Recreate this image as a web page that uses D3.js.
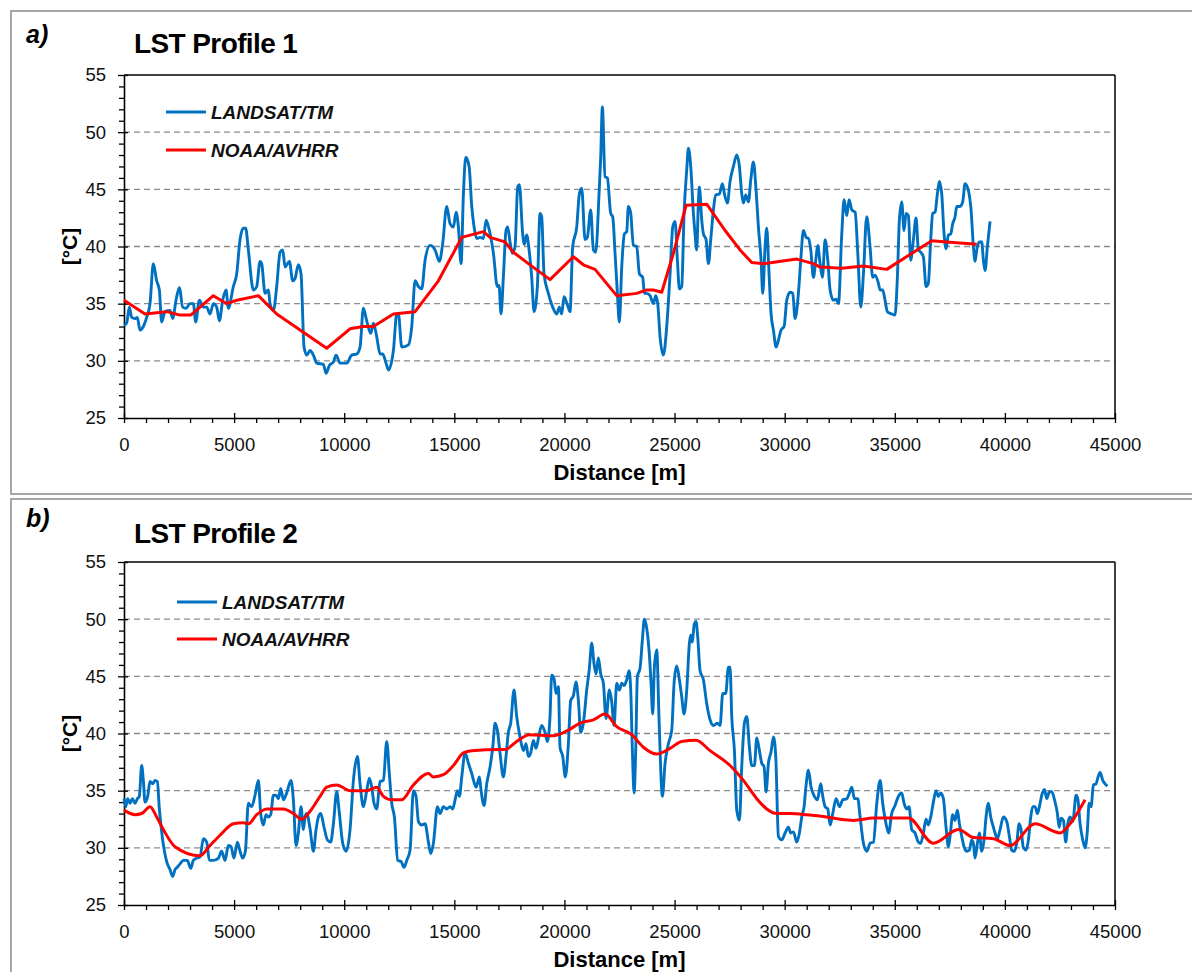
<!DOCTYPE html>
<html>
<head>
<meta charset="utf-8">
<script src="https://cdn.jsdelivr.net/npm/d3@7"></script>
<style>
  body { margin: 0; background: #fff; }
  svg { display: block; font-family: "Liberation Sans", Arial, sans-serif; }
</style>
</head>
<body>
<div id="chart"></div>
<script>
// distance [m], temperature [°C]
const p1Landsat = [[0,33.1],[121,33.3],[242,34.7],[348,33.8],[500,33.7],[606,33.8],[727,32.7],[878,33.0],[1030,33.8],[1181,35.0],[1332,38.5],[1484,37.0],[1605,36.2],[1711,33.4],[1862,34.3],[2089,34.4],[2210,33.7],[2362,35.3],[2513,36.4],[2665,34.7],[2816,34.6],[2998,35.0],[3149,35.0],[3255,33.4],[3422,35.3],[3603,34.7],[3755,34.7],[3906,34.1],[4058,35.0],[4209,34.7],[4330,33.5],[4481,35.3],[4633,36.2],[4739,34.6],[4966,36.5],[5117,37.6],[5269,40.6],[5420,41.6],[5526,41.6],[5647,39.7],[5874,36.2],[6026,36.5],[6177,38.7],[6253,38.5],[6404,35.9],[6556,36.2],[6631,35.0],[6783,34.4],[6934,36.5],[7086,39.5],[7207,39.7],[7313,38.2],[7509,38.7],[7661,37.0],[7767,37.2],[7918,38.4],[8039,37.6],[8176,31.2],[8297,30.5],[8448,30.9],[8600,30.5],[8751,29.8],[9054,29.7],[9175,28.9],[9326,29.6],[9508,29.9],[9629,30.5],[9811,29.8],[10114,29.8],[10341,30.5],[10568,30.6],[10719,31.2],[10870,34.6],[11022,33.5],[11204,32.4],[11325,33.3],[11476,32.1],[11628,30.6],[11749,30.6],[11900,29.8],[12006,29.2],[12233,30.9],[12385,34.1],[12460,34.1],[12612,31.2],[12914,31.4],[13066,33.0],[13217,37.0],[13369,36.5],[13520,36.3],[13672,38.8],[13898,40.1],[14125,39.7],[14322,38.7],[14474,40.3],[14655,43.5],[14807,42.0],[14958,41.7],[15079,43.0],[15185,41.7],[15306,38.5],[15412,44.6],[15518,47.8],[15670,47.0],[15791,43.5],[15897,41.7],[16018,40.7],[16169,40.8],[16321,40.7],[16442,42.3],[16593,41.4],[16775,39.4],[16953,36.5],[17029,36.6],[17120,34.1],[17226,37.3],[17347,41.4],[17423,41.7],[17529,40.4],[17635,39.4],[17756,40.0],[17877,45.2],[17953,45.4],[18104,41.1],[18180,40.2],[18286,41.0],[18407,39.5],[18513,37.3],[18619,34.3],[18770,36.5],[18891,42.9],[18967,42.6],[19073,37.6],[19270,35.9],[19467,34.7],[19648,34.1],[19769,34.7],[19875,34.1],[19981,35.6],[20133,34.9],[20254,34.3],[20375,40.0],[20557,41.7],[20678,44.6],[20784,45.1],[20935,40.6],[21041,40.8],[21192,43.2],[21314,39.7],[21420,39.5],[21571,44.6],[21647,47.8],[21722,52.2],[21843,46.1],[21949,46.0],[22101,42.9],[22192,42.6],[22298,39.4],[22404,35.9],[22494,33.4],[22601,38.2],[22722,41.1],[22828,41.3],[22903,43.5],[23009,42.9],[23130,40.1],[23282,40.0],[23403,37.6],[23554,37.3],[23630,35.9],[23736,35.9],[23887,35.7],[24039,35.0],[24145,35.7],[24236,35.0],[24342,32.1],[24493,30.5],[24644,33.0],[24796,37.6],[24917,41.7],[25023,42.2],[25129,38.8],[25220,36.3],[25326,36.5],[25432,42.9],[25553,46.7],[25628,48.6],[25734,47.0],[25856,42.9],[25931,41.1],[26007,39.7],[26083,43.9],[26128,45.2],[26234,42.3],[26310,41.1],[26431,40.6],[26537,38.5],[26643,40.6],[26764,43.2],[26870,44.5],[27037,44.6],[27173,45.5],[27264,44.6],[27400,43.8],[27521,45.7],[27672,47.0],[27824,48.0],[27945,47.0],[28051,44.6],[28127,43.8],[28233,44.5],[28354,43.9],[28460,45.8],[28581,47.4],[28702,44.9],[28808,41.7],[28929,38.8],[29005,35.9],[29111,40.0],[29186,41.6],[29277,38.2],[29383,34.1],[29489,32.7],[29610,31.2],[29716,31.8],[29837,32.7],[29974,33.0],[30095,35.3],[30246,36.0],[30367,35.9],[30473,33.7],[30624,35.9],[30730,38.8],[30852,41.4],[30973,40.8],[31079,40.7],[31185,39.7],[31306,37.3],[31412,38.8],[31503,40.1],[31609,38.5],[31715,37.3],[31836,40.6],[31957,38.8],[32063,36.2],[32214,35.3],[32335,35.4],[32442,35.0],[32593,41.1],[32699,44.1],[32820,42.7],[32926,44.1],[33047,43.2],[33199,43.0],[33320,39.4],[33456,34.7],[33577,37.6],[33725,42.6],[33876,40.0],[33998,37.3],[34104,37.5],[34255,36.8],[34330,36.2],[34452,36.2],[34558,35.3],[34664,34.3],[34861,34.1],[35012,34.0],[35118,37.3],[35209,42.3],[35315,43.9],[35421,41.4],[35512,42.9],[35618,42.7],[35723,38.8],[35845,40.6],[35966,42.5],[36072,39.7],[36178,39.5],[36299,39.1],[36420,36.5],[36526,36.8],[36632,40.6],[36723,42.9],[36829,43.0],[36935,44.6],[37026,45.7],[37132,44.6],[37238,41.1],[37329,39.8],[37435,41.0],[37540,41.1],[37631,42.0],[37737,42.6],[37813,43.5],[37964,43.5],[38085,43.9],[38191,45.5],[38342,44.9],[38464,43.2],[38570,40.0],[38645,38.7],[38721,39.7],[38842,40.4],[38948,40.4],[39024,38.8],[39100,37.9],[39205,40.0],[39327,42.2]];

const p1Noaa = [[0,35.3],[954,34.1],[1938,34.3],[2544,34.0],[3028,34.0],[4057,35.7],[4663,35.0],[5117,35.3],[6101,35.7],[6934,34.1],[9205,31.1],[10265,32.8],[10870,33.0],[11325,33.0],[12233,34.1],[13217,34.3],[14277,37.0],[15337,40.8],[16321,41.3],[16620,40.8],[17302,40.4],[17680,39.5],[18361,38.5],[19345,37.1],[20405,39.1],[20859,38.4],[21389,38.0],[22373,35.7],[23282,35.9],[23736,36.2],[24039,36.2],[24417,36.0],[24947,39.4],[25522,43.6],[26461,43.7],[27294,41.4],[27975,39.7],[28505,38.6],[29035,38.5],[30549,38.9],[31306,38.5],[31609,38.2],[32593,38.1],[33577,38.3],[34633,38.0],[35693,39.3],[36677,40.5],[37358,40.4],[38721,40.2]];

const p2Landsat = [[0,34.3],[76,33.6],[167,34.3],[273,33.9],[379,34.3],[500,33.9],[606,34.3],[696,34.5],[802,37.2],[878,35.9],[954,34.0],[1075,34.5],[1181,35.8],[1302,35.6],[1408,35.9],[1514,35.8],[1605,33.4],[1756,30.7],[1938,28.8],[2089,28.1],[2210,27.5],[2316,28.1],[2422,28.3],[2544,28.6],[2695,28.9],[2877,28.9],[3028,28.2],[3149,28.9],[3301,29.1],[3452,29.2],[3603,30.8],[3755,30.5],[3876,28.9],[4058,28.9],[4285,29.1],[4436,29.7],[4587,28.9],[4739,30.2],[4860,30.1],[4996,29.1],[5148,30.5],[5269,29.7],[5390,29.1],[5511,29.7],[5647,33.9],[5799,33.6],[5950,34.6],[6101,35.9],[6207,33.0],[6328,32.0],[6450,32.9],[6556,32.7],[6662,32.9],[6783,34.6],[6904,34.6],[7010,34.3],[7116,35.2],[7237,34.2],[7388,34.8],[7585,35.9],[7691,34.2],[7812,30.2],[7918,31.3],[8039,33.6],[8145,31.6],[8221,32.7],[8297,33.0],[8448,31.7],[8600,29.7],[8721,31.6],[8827,32.7],[8933,33.0],[9084,31.8],[9235,30.7],[9387,30.5],[9508,32.1],[9659,34.9],[9780,33.0],[9932,30.4],[10083,29.7],[10265,31.6],[10417,35.9],[10598,38.0],[10719,35.6],[10870,33.6],[11022,35.0],[11143,36.1],[11249,35.3],[11355,33.9],[11476,33.4],[11628,35.8],[11779,35.9],[11930,39.3],[12051,36.4],[12157,33.9],[12278,32.7],[12430,28.9],[12581,28.8],[12718,28.3],[12839,28.9],[12990,29.8],[13141,35.0],[13262,34.5],[13369,32.3],[13520,32.0],[13672,32.1],[13823,30.5],[13928,29.5],[14050,30.4],[14232,33.6],[14353,33.0],[14504,33.6],[14656,33.4],[14807,33.6],[14928,33.4],[15034,34.2],[15140,35.0],[15231,34.5],[15337,36.2],[15488,38.3],[15640,37.4],[15791,36.5],[15988,35.3],[16139,36.2],[16215,35.0],[16351,33.7],[16472,35.6],[16624,37.1],[16745,38.8],[16851,40.9],[16953,40.3],[17074,38.3],[17226,36.2],[17347,38.0],[17453,40.1],[17559,40.9],[17710,43.8],[17831,41.5],[17983,39.7],[18134,38.5],[18255,39.1],[18361,38.0],[18467,38.3],[18588,39.4],[18710,38.7],[18831,39.7],[18967,40.7],[19118,40.1],[19224,39.3],[19345,41.5],[19421,45.1],[19527,44.8],[19618,43.5],[19724,44.1],[19800,38.8],[19921,38.0],[20042,36.2],[20178,39.1],[20284,42.9],[20405,43.3],[20526,44.5],[20632,42.9],[20738,40.1],[20859,40.9],[21011,43.8],[21132,45.7],[21238,47.9],[21344,46.1],[21435,45.2],[21541,46.6],[21647,45.2],[21768,44.4],[21889,41.3],[22040,43.8],[22146,42.8],[22252,40.7],[22373,44.4],[22494,43.8],[22601,44.4],[22706,44.2],[22828,44.7],[22934,45.5],[23009,43.8],[23085,38.5],[23161,34.8],[23236,38.5],[23312,45.0],[23433,45.7],[23539,48.2],[23630,50.0],[23736,49.2],[23842,47.3],[23933,44.4],[24009,41.7],[24084,45.8],[24190,47.3],[24296,41.2],[24448,34.5],[24569,37.4],[24720,39.1],[24872,40.3],[24978,44.4],[25099,45.9],[25220,44.7],[25326,43.2],[25432,41.7],[25553,43.8],[25674,47.9],[25734,48.6],[25795,48.0],[25901,49.6],[25977,49.8],[26053,48.4],[26158,45.5],[26310,44.7],[26461,42.6],[26613,41.2],[26764,40.7],[26946,40.9],[27067,40.7],[27188,43.5],[27324,43.5],[27445,45.8],[27521,45.8],[27597,41.5],[27718,38.5],[27824,33.3],[27945,32.4],[28051,37.1],[28172,40.9],[28278,41.5],[28399,38.8],[28505,37.2],[28626,37.2],[28732,39.6],[28853,38.5],[28959,37.4],[29065,37.1],[29156,34.9],[29262,37.4],[29383,38.4],[29489,39.7],[29595,38.0],[29716,31.0],[29868,30.7],[30019,31.3],[30171,31.8],[30277,31.3],[30398,31.4],[30549,30.5],[30670,31.3],[30776,32.7],[30882,33.6],[30973,35.5],[31079,36.8],[31200,35.3],[31352,34.5],[31488,34.2],[31639,35.6],[31730,34.5],[31836,33.6],[31957,33.4],[32063,32.0],[32184,33.0],[32335,34.3],[32487,33.6],[32638,34.2],[32820,34.3],[32941,34.8],[33047,35.3],[33168,34.3],[33320,34.3],[33426,32.7],[33577,30.4],[33728,29.7],[33880,30.4],[34031,30.5],[34183,33.9],[34334,35.9],[34452,33.9],[34603,32.1],[34724,31.3],[34860,33.0],[35012,33.7],[35163,34.5],[35315,34.8],[35421,33.9],[35542,33.4],[35648,33.6],[35769,31.6],[35920,31.3],[36072,30.5],[36178,30.4],[36299,31.3],[36420,32.5],[36526,32.0],[36632,32.7],[36753,34.0],[36874,35.0],[36980,34.5],[37086,34.8],[37207,34.3],[37328,31.8],[37434,30.1],[37510,31.0],[37631,32.9],[37737,32.4],[37843,33.3],[37934,32.1],[38040,31.0],[38146,30.1],[38267,29.7],[38388,29.8],[38494,30.7],[38570,30.4],[38645,29.1],[38752,30.4],[38842,31.3],[38948,29.7],[39054,30.7],[39145,32.7],[39251,33.9],[39357,32.7],[39448,32.0],[39554,31.3],[39660,30.8],[39781,31.6],[39932,32.7],[40084,32.3],[40205,31.0],[40311,29.8],[40417,29.7],[40538,30.4],[40644,32.1],[40735,31.6],[40841,30.0],[40962,29.8],[41068,30.7],[41174,32.7],[41265,33.6],[41371,33.6],[41477,33.0],[41568,33.6],[41674,34.6],[41795,35.1],[41901,34.3],[42022,34.9],[42128,34.9],[42279,34.0],[42385,33.0],[42461,31.8],[42552,32.6],[42658,32.4],[42764,30.5],[42855,32.1],[42961,32.7],[43082,32.3],[43233,34.6],[43309,34.3],[43415,32.1],[43536,30.7],[43642,30.0],[43748,31.6],[43824,33.9],[43914,33.6],[44020,35.5],[44141,35.6],[44217,36.1],[44323,36.6],[44444,35.9],[44550,35.6],[44656,35.4]];

const p2Noaa = [[0,33.3],[500,32.9],[802,33.0],[1181,33.6],[1484,32.7],[1787,31.6],[2316,30.1],[3452,29.3],[3906,30.2],[4360,31.1],[4966,32.1],[5420,32.2],[5647,32.1],[6026,32.9],[6480,33.4],[7237,33.4],[7691,33.0],[8070,32.5],[8448,33.2],[8902,34.5],[9205,35.3],[9659,35.5],[10265,35.0],[11022,35.0],[11476,35.3],[11779,34.5],[12157,34.2],[12612,34.2],[13141,35.5],[13823,36.5],[14050,36.2],[14504,36.4],[14958,37.2],[15412,38.3],[15791,38.5],[17078,38.6],[17302,38.6],[17831,39.3],[18407,39.9],[19497,39.8],[20178,40.3],[20708,40.9],[21314,41.2],[21844,41.7],[22373,40.6],[23055,39.9],[23585,38.8],[24190,38.2],[24796,38.7],[25326,39.3],[25977,39.4],[26613,38.5],[27521,37.2],[28127,35.9],[28732,34.3],[29186,33.4],[29640,33.0],[30246,33.0],[31003,32.9],[31912,32.7],[32517,32.5],[33123,32.4],[34031,32.6],[34482,32.6],[35617,32.6],[36753,30.4],[37888,31.6],[38570,30.9],[39478,30.8],[40235,30.2],[41371,32.1],[42506,31.3],[43036,32.3],[43642,34.2]];

const seriesNames = ['LANDSAT/TM', 'NOAA/AVHRR'];
const xTicks = [0, 5000, 10000, 15000, 20000, 25000, 30000, 35000, 40000, 45000];
const yTicks = [25, 30, 35, 40, 45, 50, 55];
const gridValues = [30, 35, 40, 45, 50];

const W = 1192, H = 972;
const plotLeft = 124, plotRight = 1115;
const blue = '#0070C0', red = '#FF0000';

const svg = d3.select('#chart').append('svg')
    .attr('width', W)
    .attr('height', H);

svg.append('rect').attr('width', W).attr('height', H).attr('fill', '#fff');

const panels = [
    {
        frameTop: 11, frameBottom: 494, top: 75, bottom: 418,
        tag: 'a)', tagY: 43, title: 'LST Profile 1', titleY: 53,
        legendX: 166, legendY: [112, 150],
        landsat: p1Landsat, noaa: p1Noaa, noaaCurve: d3.curveLinear
    },
    {
        frameTop: 499, frameBottom: 985, top: 562, bottom: 905,
        tag: 'b)', tagY: 527, title: 'LST Profile 2', titleY: 543,
        legendX: 177, legendY: [602, 639],
        landsat: p2Landsat, noaa: p2Noaa, noaaCurve: d3.curveMonotoneX
    }
];

panels.forEach(p => drawPanel(p));

function drawPanel(p) {
    const g = svg.append('g');

    // outer frame
    g.append('rect')
        .attr('x', 11).attr('y', p.frameTop)
        .attr('width', W + 10).attr('height', p.frameBottom - p.frameTop)
        .attr('fill', 'none')
        .attr('stroke', '#a6a6a6')
        .attr('stroke-width', 2);

    const x = d3.scaleLinear().domain([0, 45000]).range([plotLeft, plotRight]);
    const y = d3.scaleLinear().domain([25, 55]).range([p.bottom, p.top]);

    // dashed grid
    g.selectAll('.grid')
        .data(gridValues)
        .enter()
        .append('line')
        .attr('x1', plotLeft).attr('x2', plotRight)
        .attr('y1', d => y(d)).attr('y2', d => y(d))
        .attr('stroke', '#8c8c8c')
        .attr('stroke-width', 1.4)
        .attr('stroke-dasharray', '6,4');

    // top and right border
    g.append('line')
        .attr('x1', plotLeft).attr('x2', plotRight)
        .attr('y1', y(55)).attr('y2', y(55))
        .attr('stroke', '#000').attr('stroke-width', 1.5);
    g.append('line')
        .attr('x1', plotRight).attr('x2', plotRight)
        .attr('y1', y(55)).attr('y2', y(25))
        .attr('stroke', '#000').attr('stroke-width', 1.5);

    // minor ticks
    const yMinor = d3.range(25, 56, 1).filter(v => v % 5 !== 0);
    const xMinor = d3.range(0, 45001, 1000).filter(v => v % 5000 !== 0);

    g.append('g')
        .attr('transform', `translate(${plotLeft},0)`)
        .call(d3.axisLeft(y).tickValues(yMinor).tickSize(5).tickFormat(''))
        .call(a => a.select('.domain').remove());
    g.append('g')
        .attr('transform', `translate(0,${p.bottom})`)
        .call(d3.axisBottom(x).tickValues(xMinor).tickSize(5).tickFormat(''))
        .call(a => a.select('.domain').remove());

    // inner halves of the major ticks
    g.append('g')
        .attr('transform', `translate(${plotLeft},0)`)
        .call(d3.axisRight(y).tickValues(yTicks).tickSize(4).tickFormat(''))
        .call(a => a.select('.domain').remove());
    g.append('g')
        .attr('transform', `translate(0,${p.bottom})`)
        .call(d3.axisTop(x).tickValues(xTicks).tickSize(5).tickFormat(''))
        .call(a => a.select('.domain').remove());

    // main axes with labels
    const yAxis = g.append('g')
        .attr('transform', `translate(${plotLeft},0)`)
        .call(d3.axisLeft(y).tickValues(yTicks).tickSize(6).tickSizeOuter(0).tickPadding(12));
    const xAxis = g.append('g')
        .attr('transform', `translate(0,${p.bottom})`)
        .call(d3.axisBottom(x).tickValues(xTicks).tickFormat(d3.format('d'))
            .tickSize(5).tickSizeOuter(0).tickPadding(15));

    [yAxis, xAxis].forEach(a => {
        a.selectAll('text')
            .attr('font-size', 18.5)
            .attr('font-family', '"Liberation Sans", Arial, sans-serif')
            .attr('fill', '#111');
        a.select('.domain').attr('stroke-width', 1.6);
    });
    g.selectAll('.tick line').attr('stroke', '#000').attr('stroke-width', 1.3);

    // data lines
    const landsatLine = d3.line()
        .x(d => x(d[0]))
        .y(d => y(d[1]))
        .curve(d3.curveMonotoneX);
    const noaaLine = d3.line()
        .x(d => x(d[0]))
        .y(d => y(d[1]))
        .curve(p.noaaCurve);

    g.append('path')
        .datum(p.landsat)
        .attr('d', landsatLine)
        .attr('fill', 'none')
        .attr('stroke', blue)
        .attr('stroke-width', 2.9)
        .attr('stroke-linejoin', 'round');
    g.append('path')
        .datum(p.noaa)
        .attr('d', noaaLine)
        .attr('fill', 'none')
        .attr('stroke', red)
        .attr('stroke-width', 3)
        .attr('stroke-linejoin', 'round');

    // legend
    const colors = [blue, red];
    seriesNames.forEach((name, i) => {
        g.append('line')
            .attr('x1', p.legendX).attr('x2', p.legendX + 40)
            .attr('y1', p.legendY[i]).attr('y2', p.legendY[i])
            .attr('stroke', colors[i])
            .attr('stroke-width', 3);
        g.append('text')
            .attr('x', p.legendX + 45)
            .attr('y', p.legendY[i])
            .attr('dy', '0.36em')
            .attr('font-size', 19)
            .attr('font-weight', 'bold')
            .attr('font-style', 'italic')
            .attr('fill', '#111')
            .text(name);
    });

    // tag and title
    g.append('text')
        .attr('x', 26).attr('y', p.tagY)
        .attr('font-size', 25)
        .attr('font-weight', 'bold')
        .attr('font-style', 'italic')
        .text(p.tag);
    g.append('text')
        .attr('x', 134).attr('y', p.titleY)
        .attr('font-size', 28)
        .attr('font-weight', 'bold')
        .attr('letter-spacing', -0.6)
        .text(p.title);

    // axis titles
    g.append('text')
        .attr('transform', `translate(69,${(p.top + p.bottom) / 2}) rotate(-90)`)
        .attr('text-anchor', 'middle')
        .attr('dy', '0.36em')
        .attr('font-size', 21)
        .attr('font-weight', 'bold')
        .text('[°C]');
    g.append('text')
        .attr('x', (plotLeft + plotRight) / 2)
        .attr('y', p.bottom + 62)
        .attr('text-anchor', 'middle')
        .attr('font-size', 22)
        .attr('font-weight', 'bold')
        .text('Distance [m]');
}
</script>
</body>
</html>
